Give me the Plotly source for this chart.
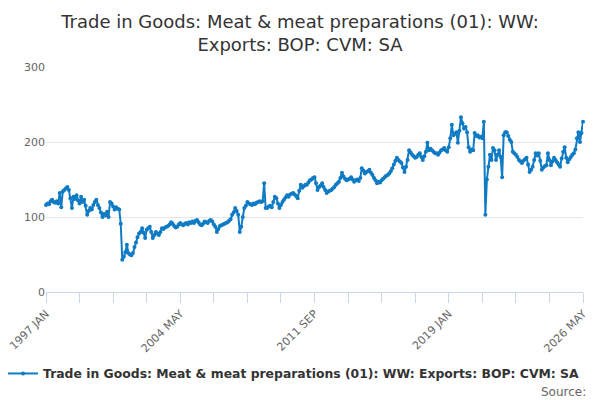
import plotly.graph_objects as go

TITLE = "Trade in Goods: Meat & meat preparations (01): WW:<br>Exports: BOP: CVM: SA"
SERIES_NAME = "Trade in Goods: Meat & meat preparations (01): WW: Exports: BOP: CVM: SA"

MONTHS = ["JAN", "FEB", "MAR", "APR", "MAY", "JUN",
          "JUL", "AUG", "SEP", "OCT", "NOV", "DEC"]
FIRST_YEAR = 1997
LAST_YEAR = 2026
LAST_MONTHS = 5  # data runs to 2026 MAY

# monthly values
values_1997_2003 = [
    116, 118, 117, 121, 123, 120, 119, 121, 118, 132, 113, 134,
    136, 138, 140, 136, 125, 112, 127, 124, 129, 122, 118, 127,
    120, 123, 115, 103, 108, 112, 110, 116, 120, 123, 116, 112,
    106, 100, 104, 102, 107, 100, 120, 118, 114, 110, 113, 111,
    110, 91, 43, 47, 53, 63, 52, 50, 49, 52, 60, 66,
    73, 78, 80, 85, 79, 72, 83, 85, 87, 80, 72, 76,
    80, 78, 76, 80, 85, 84, 86, 87, 88, 90, 93, 91,
]
values_2004_2010 = [
    88, 86, 87, 90, 92, 90, 89, 91, 92, 90, 93, 92,
    94, 92, 95, 96, 93, 90, 89, 91, 94, 93, 92, 95,
    96, 94, 90, 87, 80, 84, 88, 89, 90, 91, 92, 93,
    95, 97, 103, 106, 112, 108, 103, 80, 87, 100, 112, 115,
    120, 118, 117, 116, 118, 117, 119, 120, 121, 120, 121, 145,
    112, 112, 114, 115, 113, 120, 127, 125, 118, 112, 116, 120,
    123, 126, 129, 127, 130, 131, 132, 130, 128, 125, 135, 143,
]
values_2011_2017 = [
    139, 141, 143, 143, 146, 149, 150, 152, 153, 145, 136, 140,
    142, 145, 140, 136, 132, 134, 135, 136, 138, 140, 143, 145,
    147, 152, 159, 154, 151, 149, 150, 151, 153, 150, 147, 149,
    150, 148, 152, 165, 162, 158, 160, 161, 163, 159, 156, 152,
    149, 145, 147, 146, 149, 151, 153, 155, 156, 158, 161, 165,
    170, 175, 179, 176, 174, 172, 166, 160, 167, 176, 189, 186,
    183, 181, 179, 180, 183, 185, 180, 176, 181, 187, 199, 189,
]
values_2018_2026 = [
    191, 189, 187, 185, 185, 183, 186, 189, 190, 192, 189, 187,
    193, 205, 223, 209, 211, 213, 199, 215, 233, 225, 218, 220,
    213, 193, 187, 190, 189, 212, 208, 209, 206, 207, 205, 227,
    103, 150, 167, 183, 176, 192, 189, 176, 183, 189, 180, 153,
    209, 213, 213, 208, 203, 200, 187, 185, 183, 180, 176, 174,
    172, 175, 177, 179, 170, 160, 163, 167, 176, 185, 182, 185,
    175, 163, 166, 168, 169, 185, 176, 169, 174, 179, 176, 173,
    170, 167, 178, 187, 193, 179, 173, 177, 180, 183, 185, 190,
    205, 213, 200, 212, 227,
]

Y_TICKS = [0, 100, 200, 300]

labels = []
for year in range(FIRST_YEAR, LAST_YEAR + 1):
    n = LAST_MONTHS if year == LAST_YEAR else 12
    for m in MONTHS[:n]:
        labels.append(f"{year} {m}")

values = values_1997_2003 + values_2004_2010 + values_2011_2017 + values_2018_2026

# tick mark every 22 months, label every 4th tick
tick_vals = labels[::22]
tick_text = [lab if i % 4 == 0 else "" for i, lab in enumerate(tick_vals)]

BLUE = "#0f7bc4"
FONT = "DejaVu Sans"

fig = go.Figure()
fig.add_trace(go.Scatter(
    x=labels, y=values, mode="lines+markers", name=SERIES_NAME,
    line=dict(color=BLUE, width=2),
    marker=dict(color=BLUE, size=4),
    cliponaxis=False,
))

fig.update_layout(
    width=600, height=400,
    margin=dict(l=46, r=17, t=67, b=108, autoexpand=False),
    paper_bgcolor="white", plot_bgcolor="white",
    font=dict(family=FONT, color="#666666"),
    title=dict(text=TITLE, x=0.5, xanchor="center", y=0.931, yanchor="middle",
               font=dict(size=18, color="#333333", family=FONT)),
    showlegend=True,
    legend=dict(orientation="h", x=-0.080, xanchor="left", y=-0.364, yanchor="middle",
                itemwidth=30,
                font=dict(size=12.4, color="#333333", family=FONT, weight="bold")),
    xaxis=dict(
        type="category", range=[0, len(labels) - 1], automargin=False,
        tickmode="array", tickvals=tick_vals, ticktext=tick_text,
        tickangle=-45, ticks="outside", ticklen=10, tickcolor="#ccd6eb",
        showline=True, linecolor="#ccd6eb", linewidth=1,
        showgrid=False, zeroline=False,
        tickfont=dict(size=11, color="#666666"),
    ),
    yaxis=dict(
        range=[0, 300], tickvals=Y_TICKS, automargin=False,
        showgrid=True, gridcolor="#e6e6e6", zeroline=False,
        showline=False, ticks="",
        tickfont=dict(size=11, color="#666666"),
    ),
    annotations=[dict(
        text="Source:", xref="paper", yref="paper", x=1.009, y=-0.444,
        xanchor="right", yanchor="middle", showarrow=False,
        font=dict(size=12, color="#666666", family=FONT),
    )],
)

# the page body has a default 8px margin; drop it so the figure sits at 0,0
fig.write_html("out.html", config={"displayModeBar": False},
               post_script="document.body.style.margin='0';")
